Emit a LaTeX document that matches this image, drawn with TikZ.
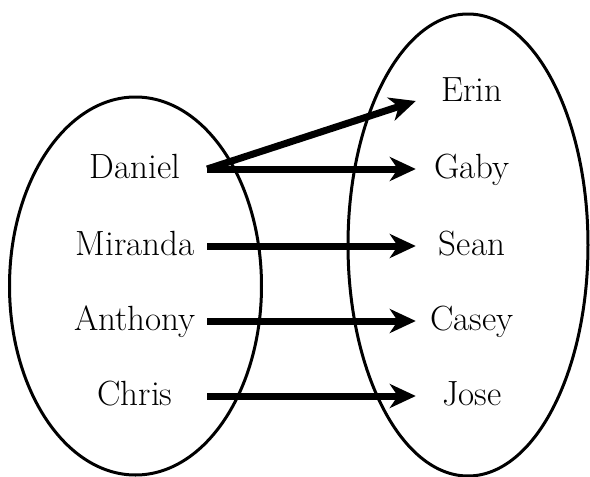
\documentclass[tikz,border=0pt]{standalone}
\usetikzlibrary{arrows.meta}
\begin{document}
\begin{tikzpicture}[x=1pt,y=-1pt,
  set/.style={line width=3pt},
  person/.style={inner sep=0pt, text height=26pt, text depth=8pt, font=\fontsize{35}{42}\selectfont},
  dom/.style={person, minimum width=144pt},
  cod/.style={person, minimum width=112pt},
  maps/.style={line width=7pt, -{Stealth[length=26pt,width=24pt,inset=8pt]}}]
  \useasboundingbox (0,0) rectangle (590,477);
  % the two sets
  \draw[set] (135.5,286) ellipse [x radius=126, y radius=189];
  \draw[set] (468,245) ellipse [x radius=120, y radius=231];
  % domain
  \node[dom] (daniel)  at (135,169) {Daniel};
  \node[dom] (miranda) at (135,246) {Miranda};
  \node[dom] (anthony) at (135,321) {Anthony};
  \node[dom] (chris)   at (135,396) {Chris};
  % codomain
  \node[cod] (erin)  at (472,92)  {Erin};
  \node[cod] (gaby)  at (472,169) {Gaby};
  \node[cod] (sean)  at (472,246) {Sean};
  \node[cod] (casey) at (472,321) {Casey};
  \node[cod] (jose)  at (472,396) {Jose};
  % the relation
  \draw[maps] (daniel.east) -- ([yshift=-9pt]erin.west);
  \draw[maps] (daniel.east) -- (gaby.west);
  \draw[maps] (miranda.east) -- (sean.west);
  \draw[maps] (anthony.east) -- (casey.west);
  \draw[maps] (chris.east) -- (jose.west);
\end{tikzpicture}
\end{document}
